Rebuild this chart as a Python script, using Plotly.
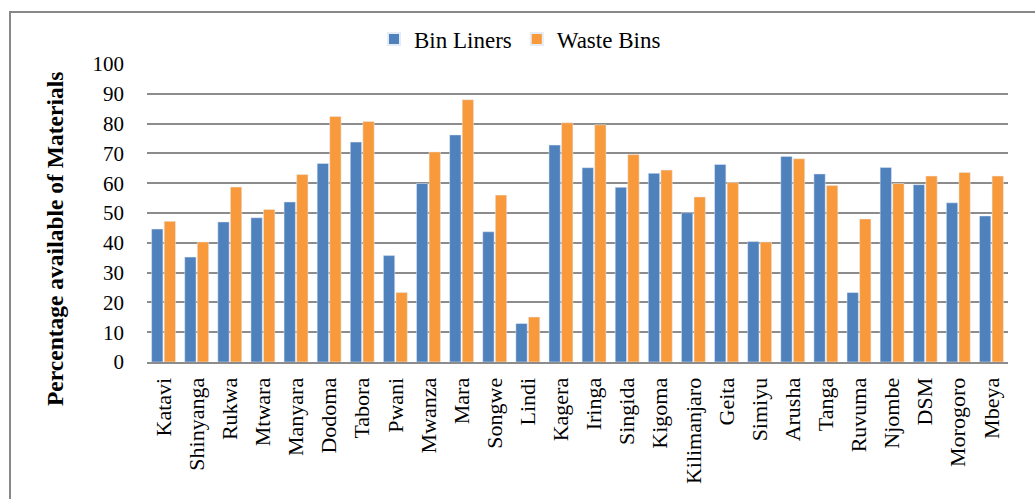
import plotly.graph_objects as go

regions = ["Katavi", "Shinyanga", "Rukwa", "Mtwara", "Manyara", "Dodoma", "Tabora",
           "Pwani", "Mwanza", "Mara", "Songwe", "Lindi", "Kagera", "Iringa", "Singida",
           "Kigoma", "Kilimanjaro", "Geita", "Simiyu", "Arusha", "Tanga", "Ruvuma",
           "Njombe", "DSM", "Morogoro", "Mbeya"]

bin_liners = [44.6, 35.2, 47.0, 48.4, 53.7, 66.6, 73.8, 35.7, 59.9, 76.2, 43.7, 12.9,
              72.8, 65.2, 58.6, 63.3, 50.1, 66.3, 40.4, 69.0, 63.1, 23.3, 65.3, 59.5,
              53.4, 49.0]

waste_bins = [47.2, 40.3, 58.7, 51.2, 62.9, 82.4, 80.7, 23.3, 70.5, 88.0, 56.0, 15.1,
              80.3, 79.6, 69.6, 64.4, 55.4, 60.2, 40.3, 68.2, 59.2, 48.0, 59.9, 62.4,
              63.6, 62.4]

y_ticks = list(range(0, 101, 10))

serif = "Liberation Serif, Times New Roman, serif"
grid_grey = "#8c8c8c"

fig = go.Figure()
fig.add_trace(go.Bar(name="Bin Liners", x=regions, y=bin_liners,
                     marker=dict(color="#4f81bd")))
fig.add_trace(go.Bar(name="Waste Bins", x=regions, y=waste_bins,
                     marker=dict(color="#f89a3c")))

L, R, T, B = 147, 27, 64, 137
W, H = 1035, 499
plot_h = H - T - B
plot_w = W - L - R


def px_x(px):
    return (px - L) / plot_w


def px_y(py):
    return (H - B - py) / plot_h


fig.update_layout(
    width=W, height=H,
    margin=dict(l=L, r=R, t=T, b=B),
    paper_bgcolor="white", plot_bgcolor="white",
    barmode="group", bargap=0.24, bargroupgap=0.1,
    font=dict(family=serif, size=20, color="black"),
    showlegend=True,
    legend=dict(orientation="h", x=px_x(520), xanchor="center",
                y=px_y(39), yanchor="middle",
                font=dict(family=serif, size=23, color="black"),
                itemsizing="constant", traceorder="normal"),
    xaxis=dict(tickangle=-90, showgrid=False, showline=True, linecolor=grid_grey,
               linewidth=2, ticks="", tickfont=dict(family=serif, size=22),
               ticklabelstandoff=5),
    yaxis=dict(range=[0, 100], tickvals=y_ticks, showgrid=True, gridcolor=grid_grey,
               gridwidth=2, zeroline=False, showline=False, ticks="",
               tickfont=dict(family=serif, size=21), ticklabelstandoff=22),
    annotations=[dict(text="<b>Percentage available of Materials</b>",
                      xref="paper", yref="paper", x=px_x(55), y=px_y(239),
                      textangle=-90, showarrow=False, xanchor="center",
                      yanchor="middle", font=dict(family=serif, size=23.5))],
    shapes=[dict(type="rect", xref="paper", yref="paper",
                 x0=px_x(10), x1=px_x(1100), y0=px_y(600), y1=px_y(12),
                 line=dict(color="#888888", width=2), layer="above")],
)

fig.write_html("out.html")
